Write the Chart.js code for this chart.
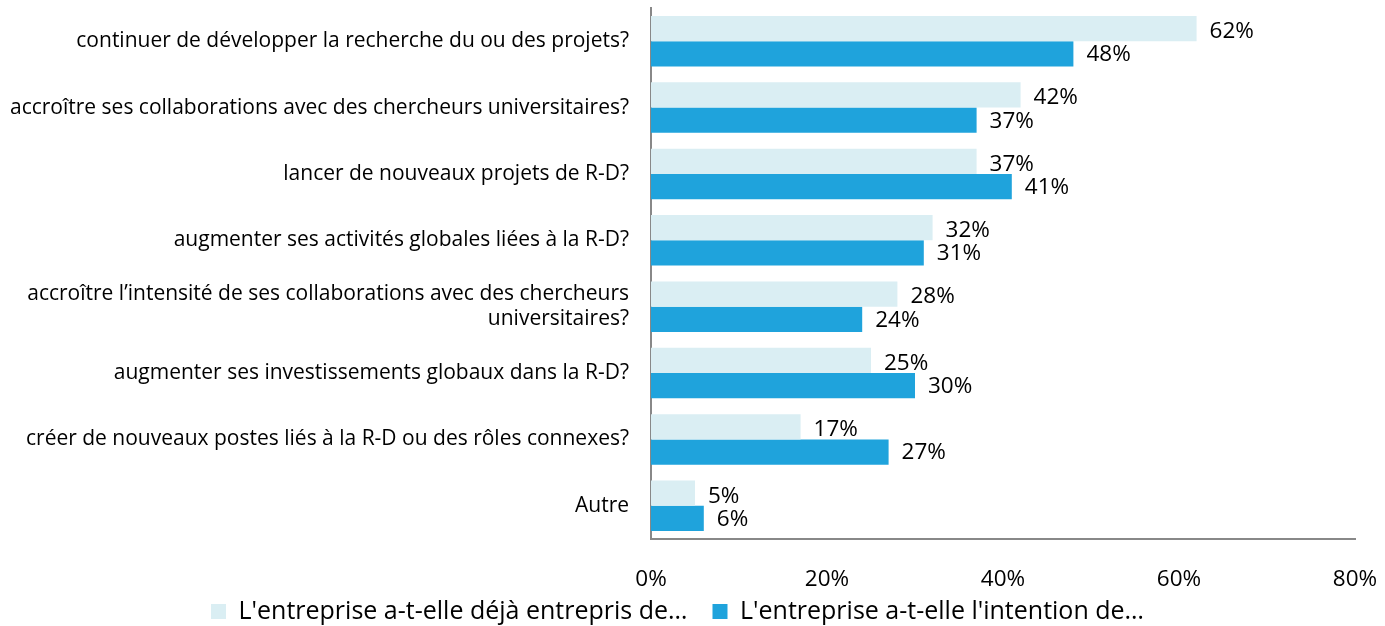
<!DOCTYPE html>
<html>
<head>
<meta charset="utf-8">
<script src="https://cdn.jsdelivr.net/npm/chart.js@4/dist/chart.umd.min.js"></script>
<style>
html, body { margin: 0; padding: 0; background: #fff; }
#wrap { width: 1385px; height: 626px; }
</style>
</head>
<body>
<div id="wrap"><canvas id="barChart"></canvas></div>
<script>
const categories = [
    "continuer de développer la recherche du ou des projets?",
    "accroître ses collaborations avec des chercheurs universitaires?",
    "lancer de nouveaux projets de R-D?",
    "augmenter ses activités globales liées à la R-D?",
    ["accroître l’intensité de ses collaborations avec des chercheurs", "universitaires?"],
    "augmenter ses investissements globaux dans la R-D?",
    "créer de nouveaux postes liés à la R-D ou des rôles connexes?",
    "Autre"
];
const dejaEntrepris = [62, 42, 37, 32, 28, 25, 17, 5];
const intention = [48, 37, 41, 31, 24, 30, 27, 6];
const seriesNames = ["L'entreprise a-t-elle déjà entrepris de…", "L'entreprise a-t-elle l'intention de…"];
const xMax = 80;
const xStep = 20;

const FONT = "'Open Sans', sans-serif";

// bar-end value labels, drawn by hand since only Chart.js is loaded
const valueLabels = {
    id: "valueLabels",
    afterDatasetsDraw(chart) {
        const ctx = chart.ctx;
        ctx.save();
        ctx.font = "22.5px " + FONT;
        ctx.fillStyle = "#000";
        ctx.textBaseline = "middle";
        ctx.textAlign = "left";
        chart.data.datasets.forEach((ds, i) => {
            const meta = chart.getDatasetMeta(i);
            meta.data.forEach((bar, j) => {
                const dy = i === 0 ? 3 : 1;
                ctx.fillText(ds.data[j] + "%", bar.x + 13, bar.y + dy);
            });
        });
        ctx.restore();
    }
};

new Chart(document.getElementById("barChart"), {
    type: "bar",
    data: {
        labels: categories,
        datasets: [
            { label: seriesNames[0], data: dejaEntrepris, backgroundColor: "#DAEEF3" },
            { label: seriesNames[1], data: intention, backgroundColor: "#1FA3DC" }
        ]
    },
    options: {
        indexAxis: "y",
        responsive: true,
        maintainAspectRatio: false,
        animation: false,
        categoryPercentage: 0.76,
        barPercentage: 1.0,
        layout: { padding: { top: 8, right: 30, bottom: -8, left: 0 } },
        scales: {
            x: {
                min: 0,
                max: xMax,
                ticks: {
                    stepSize: xStep,
                    callback: v => v + "%",
                    color: "#000",
                    font: { family: FONT, size: 22.5 },
                    padding: 19,
                    maxRotation: 0
                },
                grid: { display: false },
                border: { color: "#888", width: 2 },
                afterFit(scale) {
                    scale.paddingLeft = 0;
                    scale.paddingRight = 0;
                    scale.height -= 13;
                }
            },
            y: {
                ticks: {
                    color: "#000",
                    font: { family: FONT, size: 21 },
                    padding: 14,
                    autoSkip: false
                },
                grid: { display: false },
                border: { color: "#888", width: 2 },
                afterFit(scale) {
                    scale.width = 651;
                    scale.paddingTop = 0;
                    scale.paddingBottom = 0;
                }
            }
        },
        plugins: {
            legend: {
                position: "bottom",
                labels: {
                    color: "#000",
                    font: { family: FONT, size: 25 },
                    boxWidth: 15,
                    boxHeight: 15,
                    padding: 0,
                    generateLabels(chart) {
                        const items = Chart.defaults.plugins.legend.labels.generateLabels(chart);
                        items[0].text += "\u2003";
                        return items;
                    }
                }
            },
            tooltip: { enabled: false }
        }
    },
    plugins: [valueLabels]
});
</script>
</body>
</html>
